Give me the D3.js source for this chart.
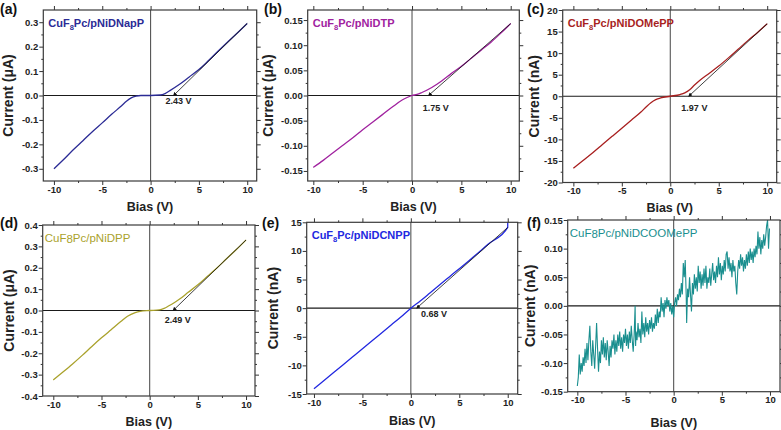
<!DOCTYPE html>
<html>
<head>
<meta charset="utf-8">
<script src="https://cdn.jsdelivr.net/npm/d3@7"></script>
<style>
body{margin:0;background:#fff}
svg{display:block;font-family:Arial,"Liberation Sans",sans-serif}
</style>
</head>
<body>
<script>
//* data
const xTicks = [-10, -5, 0, 5, 10]
const xMinor = [-7.5, -2.5, 2.5, 7.5]

// (a) CuF8Pc/pNiDNapP, uA
const biasA = [-10, -9, -8, -7, -6, -5, -4, -3, -2.5, -2, -1.5, -1, 0, 1, 1.5, 2, 3, 4, 5, 6, 7, 8, 9, 10]
const currA = [-0.30, -0.262, -0.222, -0.185, -0.147, -0.112, -0.076, -0.042, -0.024, -0.01, -0.003, 0, 0, 0.002, 0.008, 0.02, 0.046, 0.076, 0.106, 0.143, 0.182, 0.22, 0.257, 0.295]
const yTicksA = [-0.3, -0.2, -0.1, 0, 0.1, 0.2, 0.3]

// (b) CuF8Pc/pNiDTP, uA
const biasB = [-10, -9, -8, -7, -6, -5, -4, -3, -2, -1, -0.5, 0, 0.5, 1, 2, 3, 4, 5, 6, 7, 8, 9, 10]
const currB = [-0.143, -0.129, -0.114, -0.099, -0.084, -0.068, -0.053, -0.038, -0.023, -0.009, -0.004, 0, 0.002, 0.006, 0.016, 0.029, 0.044, 0.058, 0.074, 0.09, 0.106, 0.124, 0.143]
const yTicksB = [-0.15, -0.1, -0.05, 0, 0.05, 0.1, 0.15]

// (c) CuF8Pc/pNiDOMePP, nA
const biasC = [-10, -9, -8, -7, -6, -5, -4, -3, -2.5, -2, -1.5, -1, 0, 1, 1.5, 2, 2.5, 3, 4, 5, 6, 7, 8, 9, 10]
const currC = [-16.7, -14.9, -13.1, -11.2, -9.3, -7.4, -5.5, -3.6, -2.5, -1.5, -0.8, -0.4, 0, 0.4, 0.8, 1.5, 2.6, 3.6, 5.3, 7.0, 8.9, 10.9, 12.9, 14.8, 16.8]
const yTicksC = [-20, -15, -10, -5, 0, 5, 10, 15, 20]

// (d) CuF8Pc/pNiDPP, uA
const biasD = [-10, -9, -8, -7, -6, -5, -4, -3, -2.3, -1.5, -1, 0, 1, 1.5, 2, 2.5, 3, 4, 5, 6, 7, 8, 9, 10]
const currD = [-0.325, -0.288, -0.25, -0.21, -0.168, -0.128, -0.09, -0.052, -0.027, -0.01, -0.004, 0, 0.003, 0.01, 0.022, 0.035, 0.05, 0.085, 0.12, 0.16, 0.2, 0.243, 0.285, 0.33]
const yTicksD = [-0.4, -0.3, -0.2, -0.1, 0, 0.1, 0.2, 0.3, 0.4]

// (e) CuF8Pc/pNiDCNPP, nA
const biasE = [-10, -8, -6, -4, -2, -1, 0, 1, 2, 4, 6, 8, 10, 10]
const currE = [-14.1, -11.3, -8.5, -5.7, -2.9, -1.5, 0, 1.3, 2.7, 5.5, 8.3, 11.2, 14.1, 15.2]
const yTicksE = [-15, -10, -5, 0, 5, 10, 15]

// (f) CuF8Pc/pNiDCOOMePP, nA (noisy trace, [bias, current])
const traceF = [
  [-10, -0.14], [-9.9, -0.125], [-9.8, -0.085], [-9.7, -0.12], [-9.6, -0.1], [-9.5, -0.115], [-9.4, -0.09], [-9.3, -0.105],
  [-9.2, -0.075], [-9.1, -0.1], [-9.0, -0.065], [-8.9, -0.095], [-8.8, -0.06], [-8.7, -0.035], [-8.6, -0.08], [-8.5, -0.105],
  [-8.4, -0.06], [-8.3, -0.085], [-8.2, -0.11], [-8.1, -0.07], [-8.0, -0.03], [-7.9, -0.075], [-7.8, -0.115], [-7.7, -0.08],
  [-7.6, -0.1], [-7.5, -0.06], [-7.4, -0.085], [-7.3, -0.055], [-7.2, -0.09], [-7.1, -0.065], [-7.0, -0.095], [-6.9, -0.06],
  [-6.8, -0.08], [-6.7, -0.105], [-6.6, -0.07], [-6.5, -0.09], [-6.4, -0.06], [-6.3, -0.075], [-6.2, -0.05], [-6.1, -0.085],
  [-6.0, -0.06], [-5.9, -0.08], [-5.8, -0.05], [-5.7, -0.07], [-5.6, -0.045], [-5.5, -0.075], [-5.4, -0.055], [-5.3, -0.08],
  [-5.2, -0.05], [-5.1, -0.065], [-5.0, -0.04], [-4.9, -0.07], [-4.8, -0.05], [-4.7, -0.075], [-4.6, -0.045], [-4.5, -0.065],
  [-4.4, -0.035], [-4.3, -0.06], [-4.2, -0.08], [-4.1, -0.05], [-4.0, 0.0], [-3.95, -0.07], [-3.9, -0.045], [-3.8, -0.06],
  [-3.7, -0.03], [-3.6, -0.055], [-3.5, -0.04], [-3.4, -0.065], [-3.3, -0.01], [-3.2, -0.05], [-3.1, -0.03], [-3.0, -0.055],
  [-2.9, -0.02], [-2.8, -0.045], [-2.7, -0.03], [-2.6, -0.05], [-2.5, -0.025], [-2.4, -0.04], [-2.3, -0.02], [-2.2, -0.045],
  [-2.1, -0.03], [-2.0, -0.04], [-1.9, -0.015], [-1.8, -0.035], [-1.7, -0.005], [-1.6, -0.03], [-1.5, -0.01], [-1.4, -0.02],
  [-1.3, 0.015], [-1.2, -0.01], [-1.1, 0.005], [-1.0, -0.02], [-0.9, 0.01], [-0.8, -0.005], [-0.7, 0.015], [-0.6, 0.0],
  [-0.5, 0.01], [-0.4, -0.01], [-0.3, 0.005], [-0.2, -0.015], [-0.1, 0.0], [0.0, -0.02], [0.1, 0.005], [0.2, 0.015],
  [0.3, 0.0], [0.4, 0.02], [0.5, 0.01], [0.6, 0.03], [0.7, 0.015], [0.8, 0.04], [0.9, 0.02], [1.0, 0.075],
  [1.1, 0.05], [1.2, 0.08], [1.3, 0.02], [1.35, -0.03], [1.45, 0.03], [1.55, 0.015], [1.65, 0.05], [1.75, 0.02],
  [1.85, -0.01], [1.95, 0.04], [2.05, 0.02], [2.15, 0.055], [2.25, 0.03], [2.35, 0.05], [2.45, 0.025], [2.55, 0.07],
  [2.65, 0.04], [2.75, 0.06], [2.85, 0.03], [2.95, 0.055], [3.05, 0.035], [3.15, 0.065], [3.25, 0.04], [3.35, 0.07],
  [3.45, 0.03], [3.55, 0.05], [3.65, 0.04], [3.75, 0.065], [3.85, 0.035], [3.95, 0.055], [4.05, 0.075], [4.15, 0.045],
  [4.25, 0.06], [4.35, 0.04], [4.45, 0.07], [4.55, 0.05], [4.65, 0.085], [4.75, 0.055], [4.85, 0.075], [4.95, 0.045],
  [5.05, 0.07], [5.15, 0.055], [5.25, 0.08], [5.35, 0.06], [5.45, 0.09], [5.55, 0.095], [5.65, 0.065], [5.75, 0.085],
  [5.85, 0.06], [5.95, 0.075], [6.05, 0.05], [6.15, 0.08], [6.25, 0.06], [6.35, 0.07], [6.45, 0.04], [6.55, 0.02],
  [6.65, 0.06], [6.75, 0.08], [6.85, 0.065], [6.95, 0.09], [7.05, 0.07], [7.15, 0.085], [7.25, 0.06], [7.35, 0.08],
  [7.45, 0.065], [7.55, 0.09], [7.65, 0.07], [7.75, 0.095], [7.85, 0.075], [7.95, 0.1], [8.05, 0.08], [8.15, 0.095],
  [8.25, 0.075], [8.35, 0.1], [8.45, 0.085], [8.55, 0.105], [8.65, 0.09], [8.75, 0.13], [8.85, 0.1], [8.95, 0.12],
  [9.05, 0.09], [9.15, 0.115], [9.25, 0.1], [9.35, 0.125], [9.45, 0.105], [9.55, 0.12], [9.65, 0.14], [9.75, 0.15],
  [9.85, 0.1], [9.95, 0.135]
]
const yTicksF = [-0.15, -0.1, -0.05, 0, 0.05, 0.1, 0.15]

// turn-on voltages (x intercept of the fitted line)
const vth = [2.43, 1.75, 1.97, 2.49, 0.68]

//? panel layout, built from the arrays above
const panels = [
  {tag: "(a)", name: ["CuF", "8", "Pc/pNiDNapP"], sub: true, color: "#2b2b95", data: d3.zip(biasA, currA),
   box: [43.3, 256.7, 10, 181], xDom: [-11.1, 10.98], yDom: [-0.35, 0.35], yTicks: yTicksA, fmt: ".1f", unit: "Current (\u03bcA)",
   vth: vth[0], lab: [-8.5, 8], tagX: 0, tagY: 14, ylabDx: 35, xlabY: 207},
  {tag: "(b)", name: ["CuF", "8", "Pc/pNiDTP"], sub: true, color: "#a0229f", data: d3.zip(biasB, currB),
   box: [307.7, 519.3, 10, 181], xDom: [-10.57, 10.87], yDom: [-0.17, 0.17], yTicks: yTicksB, fmt: ".2f", unit: "Current (\u03bcA)",
   vth: vth[1], lab: [-6.5, 15], tagX: 264, tagY: 14, ylabDx: 40, xlabY: 207},
  {tag: "(c)", name: ["CuF", "8", "Pc/pNiDOMePP"], sub: true, color: "#a81f1f", data: d3.zip(biasC, currC),
   box: [562.7, 776.7, 10, 182.5], xDom: [-11.1, 10.98], yDom: [-20, 20], yTicks: yTicksC, fmt: "d", unit: "Current (nA)",
   vth: vth[2], lab: [-8, 15], tagX: 527, tagY: 14, ylabDx: 29, xlabY: 208},
  {tag: "(d)", name: ["CuF", "8", "Pc/pNiDPP"], sub: false, color: "#aaa22c", data: d3.zip(biasD, currD),
   box: [42.7, 255, 225, 396], xDom: [-11.1, 10.93], yDom: [-0.4, 0.4], yTicks: yTicksD, fmt: ".1f", unit: "Current (\u03bcA)",
   vth: vth[3], lab: [-9, 12], tagX: 0, tagY: 228, ylabDx: 34, xlabY: 422},
  {tag: "(e)", name: ["CuF", "8", "Pc/pNiDCNPP"], sub: true, color: "#2228e0", data: d3.zip(biasE, currE),
   box: [306.7, 517.7, 222.3, 394], xDom: [-10.75, 11.03], yDom: [-15, 15], yTicks: yTicksE, fmt: "d", unit: "Current (nA)",
   vth: vth[4], lab: [3.5, 9], tagX: 262, tagY: 228, ylabDx: 34, xlabY: 421},
  {tag: "(f)", name: ["CuF", "8", "Pc/pNiDCOOMePP"], sub: false, color: "#1a8f8f", data: traceF,
   box: [567.7, 780, 220, 391.7], xDom: [-11.0, 11.04], yDom: [-0.15, 0.15], yTicks: yTicksF, fmt: ".2f", unit: "Current (nA)",
   vth: null, tagX: 527, tagY: 228, ylabDx: 38, xlabY: 423, smooth: false}
]

const svg = d3.select("body")
              .append("svg")
              .attr("width", 781)
              .attr("height", 430)

const defs = svg.append("defs")
defs.append("marker")
    .attr("id", "arrow")
    .attr("viewBox", "0 0 10 10")
    .attr("refX", 1)
    .attr("refY", 5)
    .attr("markerWidth", 5)
    .attr("markerHeight", 5)
    .attr("orient", "auto-start-reverse")
    .append("path")
    .attr("d", "M0,0 L10,5 L0,10 z")
    .attr("fill", "#111")

function styleAxis(g){
  g.select(".domain").remove()
  g.selectAll("line").attr("stroke", "#333").attr("stroke-width", 1)
  g.selectAll("text")
   .attr("font-family", null)
   .style("font-size", "9.5px")
   .style("font-weight", "bold")
   .attr("fill", "#222")
}

panels.forEach((p, i) => {
  const [l, r, t, b] = p.box
  const x = d3.scaleLinear().domain(p.xDom).range([l, r])
  const y = d3.scaleLinear().domain(p.yDom).range([b, t])
  const g = svg.append("g")

  const step = p.yTicks[1] - p.yTicks[0]
  const yMinor = p.yTicks.slice(0, -1).map(v => v + step / 2)

  // major + minor ticks on all four sides, pointing out
  g.append("g").attr("transform", `translate(0,${b})`)
   .call(d3.axisBottom(x).tickValues(xTicks).tickSize(4).tickPadding(1).tickFormat(d3.format("d"))).call(styleAxis)
  g.append("g").attr("transform", `translate(0,${b})`)
   .call(d3.axisBottom(x).tickValues(xMinor).tickSize(2).tickFormat("")).call(styleAxis)
  g.append("g").attr("transform", `translate(0,${t})`)
   .call(d3.axisTop(x).tickValues(xTicks).tickSize(4).tickFormat("")).call(styleAxis)
  g.append("g").attr("transform", `translate(0,${t})`)
   .call(d3.axisTop(x).tickValues(xMinor).tickSize(2).tickFormat("")).call(styleAxis)
  g.append("g").attr("transform", `translate(${l},0)`)
   .call(d3.axisLeft(y).tickValues(p.yTicks).tickSize(4).tickPadding(1).tickFormat(d3.format(p.fmt))).call(styleAxis)
  g.append("g").attr("transform", `translate(${l},0)`)
   .call(d3.axisLeft(y).tickValues(yMinor).tickSize(2).tickFormat("")).call(styleAxis)
  g.append("g").attr("transform", `translate(${r},0)`)
   .call(d3.axisRight(y).tickValues(p.yTicks).tickSize(4).tickFormat("")).call(styleAxis)
  g.append("g").attr("transform", `translate(${r},0)`)
   .call(d3.axisRight(y).tickValues(yMinor).tickSize(2).tickFormat("")).call(styleAxis)

  g.selectAll(".tick text").text(function(){ return this.textContent.replace("\u2212", "-") })

  // zero lines
  g.append("line").attr("x1", x(0)).attr("x2", x(0)).attr("y1", t).attr("y2", b)
   .attr("stroke", "#555").attr("stroke-width", 1.1)
  g.append("line").attr("x1", l).attr("x2", r).attr("y1", y(0)).attr("y2", y(0))
   .attr("stroke", "#1a1a1a").attr("stroke-width", 1.1)

  const clipId = "clip" + i
  defs.append("clipPath").attr("id", clipId)
      .append("rect").attr("x", l).attr("y", t).attr("width", r - l).attr("height", b - t)

  const line = d3.line()
                 .x(d => x(d[0]))
                 .y(d => y(d[1]))
                 .curve(p.smooth === false ? d3.curveLinear : d3.curveMonotoneX)

  g.append("path")
   .datum(p.data)
   .attr("clip-path", `url(#${clipId})`)
   .attr("d", line)
   .attr("fill", "none")
   .attr("stroke", p.color)
   .attr("stroke-width", p.smooth === false ? 1.1 : 1.3)

  // fitted line with arrow to the intercept
  if(p.vth !== null){
    const last = p.data[p.data.length - 1][0] === p.data[p.data.length - 2][0] ? p.data[p.data.length - 2] : p.data[p.data.length - 1]
    g.append("line")
     .attr("x1", x(p.vth) + 1.5).attr("y1", y(0) - 2)
     .attr("x2", x(last[0])).attr("y2", y(last[1]))
     .attr("stroke", "#111")
     .attr("stroke-width", 0.8)
     .attr("marker-start", "url(#arrow)")
    g.append("text")
     .attr("x", x(p.vth) + p.lab[0])
     .attr("y", y(0) + p.lab[1])
     .style("font-size", "9px")
     .style("font-weight", "bold")
     .attr("fill", "#222")
     .text(d3.format(".2f")(p.vth) + " V")
  }

  // frame
  g.append("rect")
   .attr("x", l).attr("y", t).attr("width", r - l).attr("height", b - t)
   .attr("fill", "none").attr("stroke", "#3a3a3a").attr("stroke-width", 1.2)

  // sample name
  const nm = g.append("text")
              .attr("x", l + (p.sub ? 5 : 2))
              .attr("y", t + 17)
              .attr("fill", p.color)
              .style("font-size", p.sub ? "11px" : "11.5px")
              .style("font-weight", p.sub ? "bold" : "normal")
  nm.append("tspan").text(p.name[0])
  if(p.sub){
    nm.append("tspan").attr("dy", 3).style("font-size", "7.5px").text(p.name[1])
    nm.append("tspan").attr("dy", -3).text(p.name[2])
  }else{
    nm.append("tspan").attr("dy", 1).text(p.name[1])
    nm.append("tspan").attr("dy", -1).text(p.name[2])
  }

  // panel letter
  svg.append("text")
     .attr("x", p.tagX)
     .attr("y", p.tagY)
     .style("font-size", "14px")
     .style("font-weight", "bold")
     .attr("fill", "#111")
     .text(p.tag)

  // axis titles
  svg.append("text")
     .attr("transform", `translate(${l - p.ylabDx},${(t + b) / 2}) rotate(-90)`)
     .attr("text-anchor", "middle")
     .attr("dy", "0.35em")
     .style("font-size", "14px")
     .style("font-weight", "bold")
     .attr("fill", "#222")
     .text(p.unit)
  svg.append("text")
     .attr("x", (l + r) / 2)
     .attr("y", p.xlabY)
     .attr("text-anchor", "middle")
     .attr("dy", "0.35em")
     .style("font-size", "12.5px")
     .style("font-weight", "bold")
     .attr("fill", "#222")
     .text("Bias (V)")
})
</script>
</body>
</html>
